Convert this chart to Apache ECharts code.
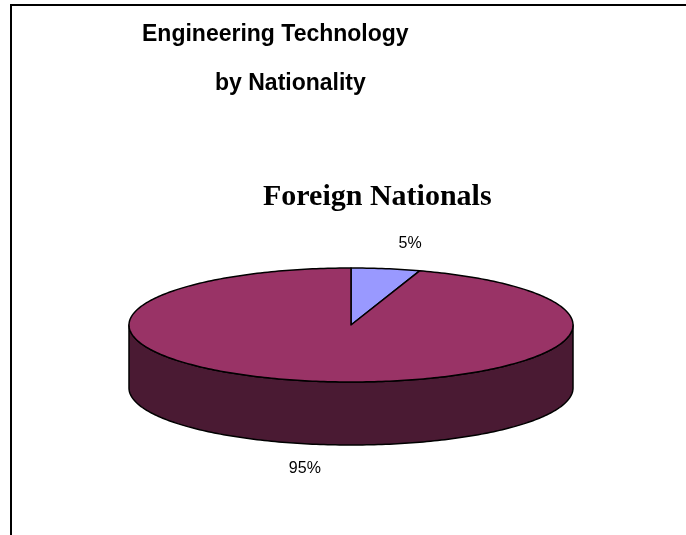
<!DOCTYPE html>
<html>
<head>
<meta charset="utf-8">
<style>
  html, body { margin: 0; padding: 0; background: #ffffff; }
  #chart { width: 686px; height: 535px; }
</style>
<script src="https://cdn.jsdelivr.net/npm/echarts@6/dist/echarts.min.js"></script>
</head>
<body>
<div id="chart"></div>
<script>
// Share of Engineering Technology students by nationality
var categories = ['Foreign Nationals', 'Other'];
var values = [5, 95];
var topColors = ['#9999ff', '#993366'];
var sideColors = ['#4d4d80', '#4a1a33'];

// Pie geometry (screen pixels)
var CX = 351, CY = 325, RX = 222, RY = 57, DEPTH = 63;
// Label ellipse: back labels sit further out than front ones
var LABEL_RX_BACK = 378, LABEL_RX_FRONT = 295, LABEL_RY = 82;

var total = values.reduce(function (a, b) { return a + b; }, 0);
var starts = [];
(function () {
  var acc = 0;
  for (var i = 0; i < values.length; i++) { starts.push(acc); acc += values[i]; }
})();

function pt(theta, dy) {
  return [CX + RX * Math.sin(theta), CY - RY * Math.cos(theta) + (dy || 0)];
}

function arc(a0, a1, dy) {
  var pts = [];
  var n = Math.max(2, Math.ceil(Math.abs(a1 - a0) / (Math.PI / 180)));
  for (var k = 0; k <= n; k++) pts.push(pt(a0 + (a1 - a0) * k / n, dy));
  return pts;
}

function renderSlice(params, api) {
  var i = params.dataIndex;
  var v = api.value(1);
  var a0 = starts[i] / total * 2 * Math.PI;
  var a1 = a0 + v / total * 2 * Math.PI;
  var children = [];

  // Visible side wall: front half of the cylinder (90deg..270deg)
  var s0 = Math.max(a0, Math.PI / 2), s1 = Math.min(a1, 3 * Math.PI / 2);
  if (s1 > s0) {
    var upper = arc(s0, s1, 0);
    var lower = arc(s1, s0, DEPTH);
    children.push({
      type: 'polygon',
      z2: 1,
      shape: { points: upper.concat(lower) },
      style: { fill: sideColors[i], stroke: '#000', lineWidth: 1.5, lineJoin: 'round' }
    });
  }

  // Top face
  var top = [[CX, CY]].concat(arc(a0, a1, 0));
  children.push({
    type: 'polygon',
    z2: 5,
    shape: { points: top },
    style: { fill: topColors[i], stroke: '#000', lineWidth: 1.5, lineJoin: 'round' }
  });

  // Percentage label
  var mid = (a0 + a1) / 2;
  var front = Math.cos(mid) < 0;
  var lx = CX + (front ? LABEL_RX_FRONT : LABEL_RX_BACK) * Math.sin(mid);
  var ly = CY - LABEL_RY * Math.cos(mid) + (front ? DEPTH : 0);
  children.push({
    type: 'text',
    z2: 10,
    style: {
      x: lx, y: ly,
      text: Math.round(v / total * 100) + '%',
      fill: '#000',
      font: '16px "Liberation Sans", Arial, sans-serif',
      align: 'center', verticalAlign: 'middle'
    }
  });

  return { type: 'group', children: children };
}

var chart = echarts.init(document.getElementById('chart'), null, { renderer: 'canvas' });
chart.setOption({
  backgroundColor: '#ffffff',
  animation: false,
  title: [
    {
      text: 'Engineering Technology',
      left: 137, top: 18,
      textStyle: { fontFamily: '"Liberation Sans", Arial, sans-serif', fontWeight: 'bold', fontSize: 23, color: '#000' }
    },
    {
      text: 'by Nationality',
      left: 210, top: 67,
      textStyle: { fontFamily: '"Liberation Sans", Arial, sans-serif', fontWeight: 'bold', fontSize: 23, color: '#000' }
    },
    {
      text: categories[0],
      left: 258, top: 177,
      textStyle: { fontFamily: '"Liberation Serif", "Times New Roman", serif', fontWeight: 'bold', fontSize: 30, color: '#000' }
    }
  ],
  graphic: [
    {
      type: 'polyline',
      shape: { points: [[11, 540], [11, 5], [690, 5]] },
      style: { stroke: '#000', lineWidth: 2, fill: null }
    }
  ],
  series: [{
    type: 'custom',
    coordinateSystem: 'none',
    renderItem: renderSlice,
    data: values.map(function (v, i) { return [i, v]; })
  }]
});
</script>
</body>
</html>
